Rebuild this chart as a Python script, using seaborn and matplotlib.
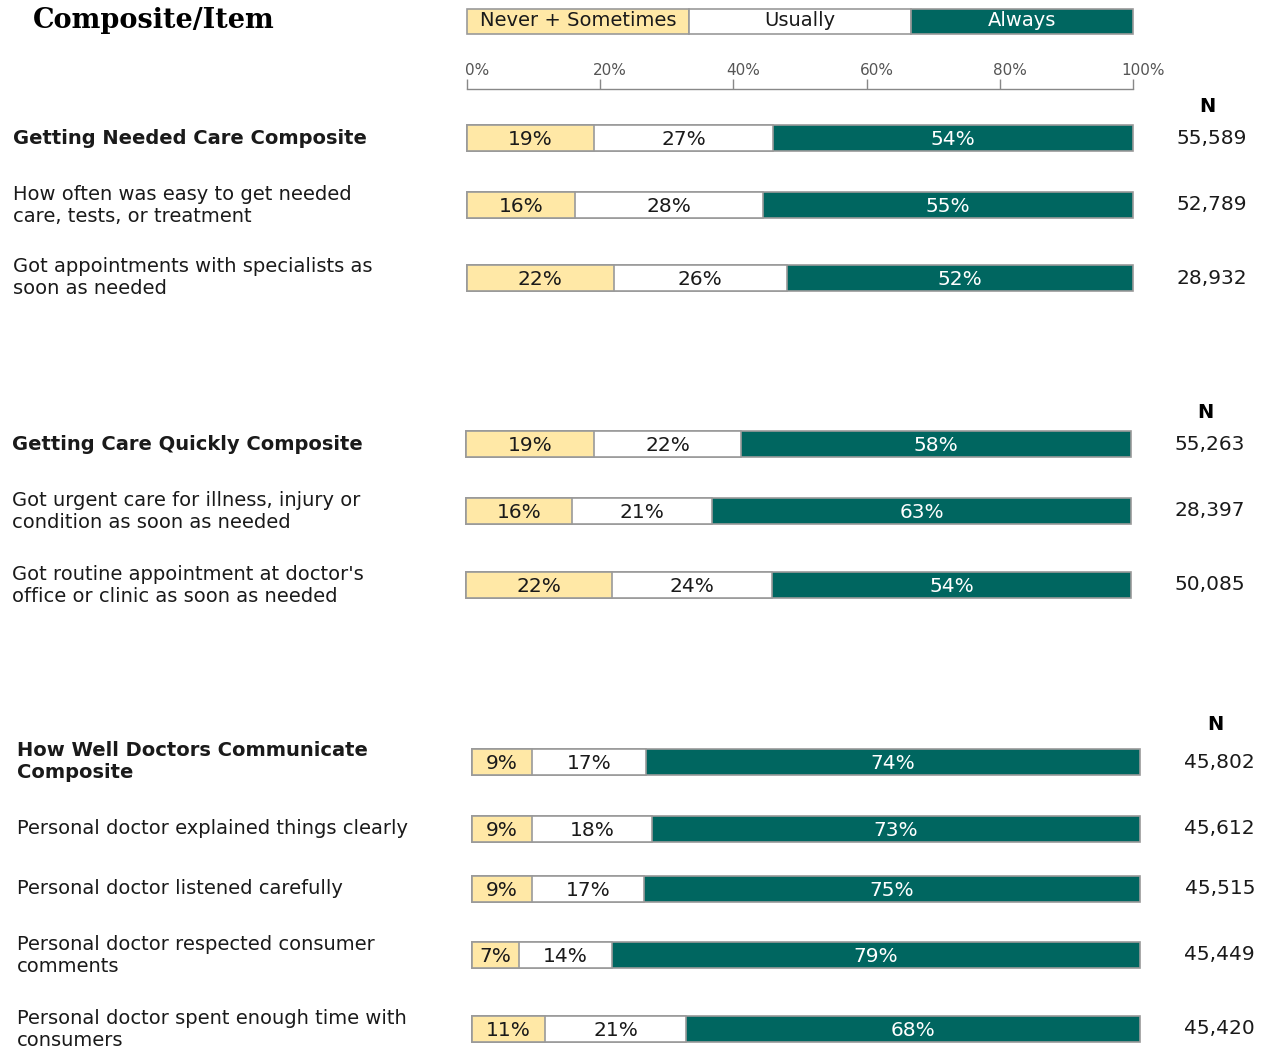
import pandas as pd
import seaborn as sns
import matplotlib.pyplot as plt
import matplotlib.transforms as mtransforms

# ---- values ----
items = [
    "Getting Needed Care Composite",
    "How often was easy to get needed\ncare, tests, or treatment",
    "Got appointments with specialists as\nsoon as needed",
    "Getting Care Quickly Composite",
    "Got urgent care for illness, injury or\ncondition as soon as needed",
    "Got routine appointment at doctor's\noffice or clinic as soon as needed",
    "How Well Doctors Communicate\nComposite",
    "Personal doctor explained things clearly",
    "Personal doctor listened carefully",
    "Personal doctor respected consumer\ncomments",
    "Personal doctor spent enough time with\nconsumers",
]
never_sometimes = [19, 16, 22, 19, 16, 22, 9, 9, 9, 7, 11]
usually = [27, 28, 26, 22, 21, 24, 17, 18, 17, 14, 21]
always = [54, 55, 52, 58, 63, 54, 74, 73, 75, 79, 68]
n_values = ["55,589", "52,789", "28,932", "55,263", "28,397", "50,085",
            "45,802", "45,612", "45,515", "45,449", "45,420"]
is_composite = [True, False, False, True, False, False, True, False, False, False, False]
panel_of_row = [0, 0, 0, 1, 1, 1, 2, 2, 2, 2, 2]
legend_labels = ["Never + Sometimes", "Usually", "Always"]
tick_values = [0, 20, 40, 60, 80, 100]

# ---- layout (pixels) ----
W, H = 1265, 1050
row_y = [138, 205, 278, 444, 511, 585, 762, 829, 889, 955, 1029]
panel_x = [(467, 1133), (466, 1131), (472, 1140)]
label_x = [13, 12, 17]
n_right = [1247, 1245, 1255]
n_head_y = [107, 413, 725]
bar_h = 26

YELLOW = "#FFE8A6"
TEAL = "#006660"
EDGE = "#9a9a9a"
TXT = "#1a1a1a"

sns.set_theme(style="white")
plt.rcParams["font.family"] = ["DejaVu Sans"]

fig = plt.figure(figsize=(W / 100, H / 100), dpi=100)


def px_axes(x0, y0, x1, y1):
    return fig.add_axes([x0 / W, 1 - y1 / H, (x1 - x0) / W, (y1 - y0) / H])


# title
fig.text(33 / W, 1 - 21 / H, "Composite/Item", family="DejaVu Serif",
         fontweight="bold", fontsize=19.5, va="center", ha="left", color="black")

# legend strip
lax = px_axes(467, 9, 1133, 34)
leg_colors = [YELLOW, "white", TEAL]
leg_text = [TXT, TXT, "white"]
for i, (lab, c, tc) in enumerate(zip(legend_labels, leg_colors, leg_text)):
    lax.barh(0, 1, left=i, height=1, color=c, edgecolor=EDGE, linewidth=1.2, clip_on=False)
    lax.text(i + 0.5, 0.05, lab, ha="center", va="center", fontsize=14, color=tc)
lax.set_xlim(0, 3)
lax.set_ylim(-0.5, 0.5)
lax.axis("off")

# percentage scale
tax = px_axes(467, 89, 1133, 90)
tax.set_xlim(0, 100)
tax.set_yticks([])
for s in ["left", "right", "bottom"]:
    tax.spines[s].set_visible(False)
tax.spines["top"].set_color("#888888")
tax.spines["top"].set_linewidth(1)
tax.xaxis.tick_top()
tax.set_xticks(tick_values)
tax.set_xticklabels([f"{t}%" for t in tick_values])
tax.tick_params(axis="x", direction="out", length=7, width=1, color="#888888",
                labelsize=11, labelcolor="#555555", pad=1)
shift = mtransforms.ScaledTranslation(10 / 100, 0, fig.dpi_scale_trans)
for lbl in tax.get_xticklabels():
    lbl.set_transform(lbl.get_transform() + shift)
tax.set_facecolor("none")

# N headers
for p in range(3):
    x_mid = n_right[p] - 40
    fig.text(x_mid / W, 1 - n_head_y[p] / H, "N", fontweight="bold", fontsize=14,
             ha="center", va="center", color="black")

# bars
for i, label in enumerate(items):
    p = panel_of_row[i]
    x0, x1 = panel_x[p]
    yc = row_y[i]
    ax = px_axes(x0, yc - bar_h / 2, x1, yc + bar_h / 2)

    total = never_sometimes[i] + usually[i] + always[i]
    c1 = never_sometimes[i] / total * 100
    c2 = (never_sometimes[i] + usually[i]) / total * 100
    df = pd.DataFrame({"item": [label], "ns": [c1], "nu": [c2], "all": [100.0]})

    sns.barplot(data=df, x="all", y="item", orient="h", color=TEAL, saturation=1,
                width=1, edgecolor=EDGE, linewidth=1.2, ax=ax)
    sns.barplot(data=df, x="nu", y="item", orient="h", color="white", saturation=1,
                width=1, edgecolor=EDGE, linewidth=1.2, ax=ax)
    sns.barplot(data=df, x="ns", y="item", orient="h", color=YELLOW, saturation=1,
                width=1, edgecolor=EDGE, linewidth=1.2, ax=ax)
    for patch in ax.patches:
        patch.set_clip_on(False)
    ax.set_xlim(0, 100)
    ax.set_ylim(0.5, -0.5)
    ax.axis("off")

    segs = [(c1 / 2, never_sometimes[i], TXT),
            ((c1 + c2) / 2, usually[i], TXT),
            ((c2 + 100) / 2, always[i], "white")]
    for cx, v, col in segs:
        ax.text(cx, 0.04, f"{v}%", ha="center", va="center", fontsize=14.5, color=col)

    fig.text(label_x[p] / W, 1 - yc / H, label, ha="left", va="center",
             fontsize=14, linespacing=1.2, color=TXT,
             fontweight="bold" if is_composite[i] else "normal")
    fig.text(n_right[p] / W, 1 - yc / H, n_values[i], ha="right", va="center",
             fontsize=14.5, color=TXT)

fig.savefig("out.png", dpi=100, facecolor="white")
